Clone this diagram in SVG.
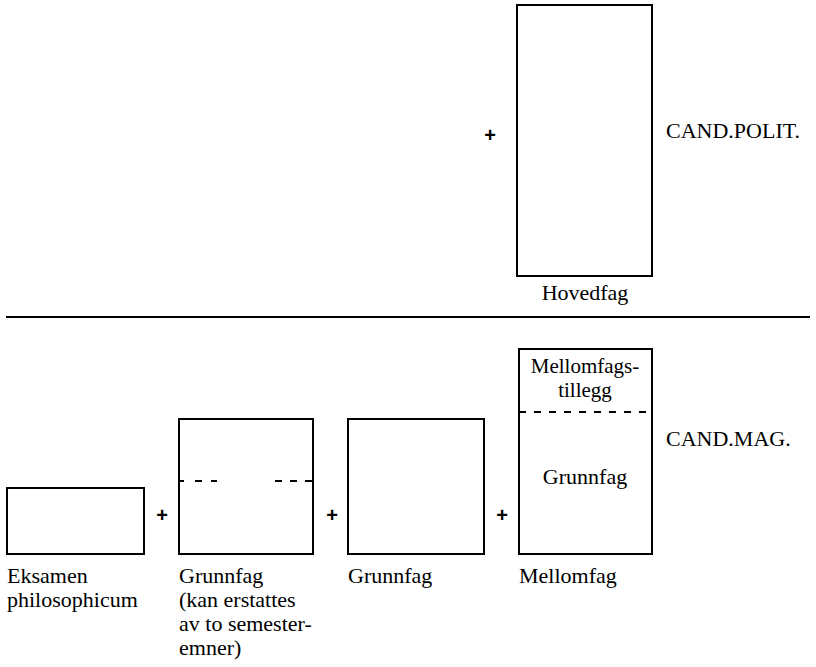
<svg xmlns="http://www.w3.org/2000/svg" width="816" height="667" viewBox="0 0 816 667">
<style>
.box{fill:none;stroke:#000;stroke-width:2}
.dash{stroke:#000;stroke-width:2}
.m{text-anchor:middle}
.plus{font-family:'Liberation Sans',Arial,sans-serif;font-size:20px;font-weight:bold;fill:#000;text-anchor:middle}
</style>
<rect width="816" height="667" fill="#fff"/>
<g id="connectors">
<line x1="6" y1="317" x2="810" y2="317" stroke="#000" stroke-width="2"/>
<text class="plus" x="490" y="142">+</text>
<text class="plus" x="162" y="522">+</text>
<text class="plus" x="332" y="522">+</text>
<text class="plus" x="502" y="522">+</text>
</g>
<g font-family="Liberation Serif, DejaVu Serif, serif" font-size="22" fill="#000">
<g id="hovedfag">
<rect class="box" x="517" y="5" width="135" height="271"/>
<text class="m" x="585" y="300">Hovedfag</text>
</g>
<g id="cand-polit">
<text x="666" y="138">CAND.POLIT.</text>
</g>
<g id="eksamen">
<rect class="box" x="7" y="488" width="137" height="66"/>
<text x="7" y="583">Eksamen</text>
<text x="7" y="607">philosophicum</text>
</g>
<g id="grunnfag1">
<rect class="box" x="179" y="419" width="134" height="135"/>
<line class="dash" x1="179" y1="481" x2="184" y2="481"/>
<line class="dash" x1="195" y1="481" x2="202" y2="481"/>
<line class="dash" x1="211" y1="481" x2="217" y2="481"/>
<line class="dash" x1="275" y1="481" x2="282" y2="481"/>
<line class="dash" x1="290" y1="481" x2="297" y2="481"/>
<line class="dash" x1="305" y1="481" x2="313" y2="481"/>
<text x="179" y="583">Grunnfag</text>
<text x="179" y="607">(kan erstattes</text>
<text x="179" y="631">av to semester-</text>
<text x="179" y="655">emner)</text>
</g>
<g id="grunnfag2">
<rect class="box" x="348" y="419" width="136" height="135"/>
<text x="348" y="583">Grunnfag</text>
</g>
<g id="mellomfag">
<rect class="box" x="519" y="349" width="133" height="205"/>
<line class="dash" x1="519" y1="412" x2="652" y2="412" stroke-dasharray="7,8"/>
<text class="m" x="585" y="373" font-size="21">Mellomfags-</text>
<text class="m" x="585" y="397" font-size="21">tillegg</text>
<text class="m" x="585" y="484">Grunnfag</text>
<text x="519" y="583">Mellomfag</text>
</g>
<g id="cand-mag">
<text x="666" y="446">CAND.MAG.</text>
</g>
</g>
</svg>
